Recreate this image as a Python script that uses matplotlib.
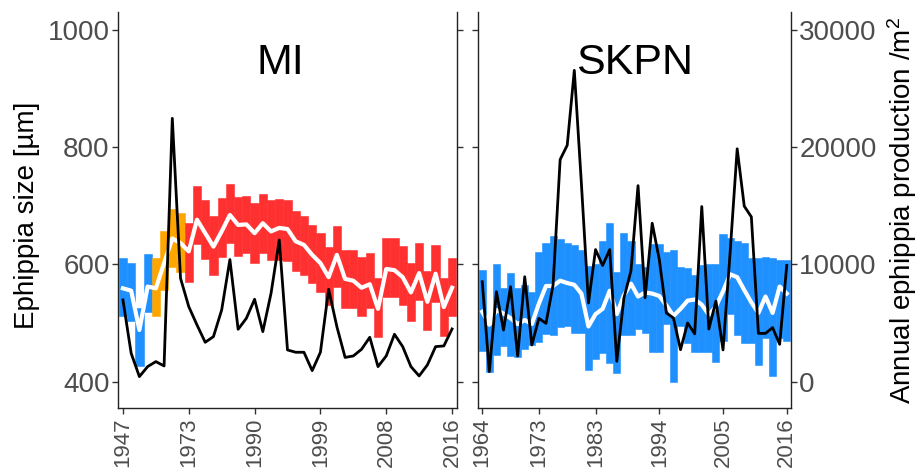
import matplotlib
matplotlib.use("Agg")
import matplotlib.pyplot as plt
import numpy as np

plt.rcParams['font.family'] = ['Liberation Sans', 'DejaVu Sans']
plt.rcParams['mathtext.fontset'] = 'custom'
plt.rcParams['mathtext.rm'] = 'Liberation Sans'
plt.rcParams['mathtext.it'] = 'Liberation Sans'

# ---------------- data ----------------
mi_tick_idx = [0, 8, 16, 24, 32, 40]
mi_tick_labels = ['1947', '1973', '1990', '1999', '2008', '2016']
skpn_tick_idx = [0, 8, 16, 25, 34, 43]
skpn_tick_labels = ['1964', '1973', '1983', '1994', '2005', '2016']

mi_mean = [559, 555, 488, 562, 559, 602, 644, 636, 622, 676, 653, 630, 656, 684,
           667, 668, 653, 670, 656, 662, 660, 639, 633, 616, 602, 578, 616, 575,
           572, 560, 566, 524, 592, 590, 578, 552, 585, 536, 584, 527, 560]
mi_upper = [610, 603, 525, 617, 610, 656, 695, 687, 671, 733, 710, 682, 713, 736,
            714, 716, 705, 719, 710, 711, 710, 690, 683, 667, 653, 629, 665, 624,
            624, 613, 619, 576, 644, 644, 631, 603, 636, 588, 633, 577, 610]
mi_lower = [511, 504, 426, 518, 511, 556, 596, 587, 570, 634, 609, 582, 613, 636,
            614, 619, 603, 619, 608, 608, 605, 588, 582, 568, 553, 531, 562, 525,
            525, 512, 525, 476, 544, 544, 531, 504, 539, 488, 536, 478, 511]
mi_prod = [6958, 2414, 426, 1278, 1704, 1335, 22436, 8804, 6390, 4828, 3351, 3834,
           6106, 10400, 4459, 5396, 7015, 4260, 7526, 12070, 2698, 2500, 2500, 937,
           2500, 7867, 4686, 2060, 2187, 2755, 3777, 1278, 2187, 4033, 2982, 1278,
           483, 1420, 2982, 3039, 4487]
mi_group = ['early'] * 4 + ['mid'] * 4 + ['late'] * 33

skpn_mean = [519, 497, 522, 516, 508, 498, 505, 498, 533, 563, 563, 572, 568, 565,
             550, 494, 515, 524, 555, 515, 547, 567, 545, 552, 550, 546, 530, 512,
             524, 538, 540, 531, 514, 528, 554, 583, 578, 556, 535, 517, 545, 517,
             562, 550]
skpn_upper = [591, 497, 600, 560, 585, 560, 565, 552, 621, 637, 648, 643, 636, 633,
              624, 597, 600, 640, 670, 587, 654, 640, 600, 596, 634, 635, 621, 624,
              595, 593, 582, 599, 601, 601, 652, 645, 640, 636, 611, 610, 612, 610,
              607, 607]
skpn_lower = [452, 416, 446, 460, 444, 442, 455, 463, 468, 481, 480, 493, 495, 483,
              483, 420, 439, 449, 432, 415, 479, 480, 490, 482, 451, 451, 499, 400,
              494, 466, 451, 451, 451, 434, 470, 515, 479, 466, 465, 429, 475, 409,
              474, 469]
skpn_prod = [8511, 851, 7660, 4397, 8085, 2184, 8936, 3121, 5390, 4965, 8227, 18923,
             20143, 26526, 16880, 6700, 11250, 9900, 11250, 1730, 7100, 9450, 16700,
             7150, 13500, 10400, 5850, 5420, 2720, 5000, 4070, 14920, 4480, 6870,
             2700, 10980, 19840, 14950, 14040, 4110, 4110, 4600, 3180, 9900]
skpn_group = ['early'] * 44

group_colors = {'early': '#1E90FF', 'mid': '#FFA500', 'late': '#FF3030'}

size_ticks = [400, 600, 800, 1000]
prod_ticks = [0, 10000, 20000, 30000]
size_lim = (355, 1030)

# ---------------- figure ----------------
W, H = 918, 471
fig = plt.figure(figsize=(W / 100, H / 100), dpi=100)


def rect(x0, x1, y0, y1):
    return [x0 / W, 1 - y1 / H, (x1 - x0) / W, (y1 - y0) / H]


TICK_COL = '#333333'
LAB_COL = '#4D4D4D'


def panel(ax, mean, lo, hi, prod, groups, tidx, tlab, title, title_x,
          left_labels, right_labels):
    n = len(mean)
    x = np.arange(n)
    cols = [group_colors[g] for g in groups]
    lo = np.array(lo, float)
    hi = np.array(hi, float)
    ax.bar(x, hi - lo, bottom=lo, width=1.0, color=cols, edgecolor=cols,
           linewidth=0.4, zorder=1)
    ax.plot(x, mean, color='white', lw=3.0, zorder=2, solid_joinstyle='round')
    ax.set_xlim(-0.6, n - 0.4)
    ax.set_ylim(*size_lim)
    ax.set_yticks(size_ticks)
    ax.set_xticks(tidx)
    ax.set_xticklabels(tlab, rotation=90, color=LAB_COL)
    ax.tick_params(axis='both', direction='out', length=4, width=1, color=TICK_COL,
                   labelsize=20, labelcolor=LAB_COL, pad=2)
    ax.tick_params(axis='x', labelsize=16, pad=3)
    if not left_labels:
        ax.set_yticklabels([])
    for s in ['top', 'right']:
        ax.spines[s].set_visible(False)
    for s in ['left', 'bottom']:
        ax.spines[s].set_color('#222222')
        ax.spines[s].set_linewidth(1.0)

    tw = ax.twinx()
    tw.plot(x, prod, color='black', lw=2.0, zorder=3, solid_joinstyle='round')
    tw.set_ylim((size_lim[0] - 400) * 50, (size_lim[1] - 400) * 50)
    tw.set_yticks(prod_ticks)
    tw.tick_params(axis='y', direction='out', length=4, width=1, color=TICK_COL,
                   labelsize=20, labelcolor=LAB_COL, pad=2)
    if not right_labels:
        tw.set_yticklabels([])
    for s in ['top', 'left', 'bottom']:
        tw.spines[s].set_visible(False)
    tw.spines['right'].set_color('#222222')
    tw.spines['right'].set_linewidth(1.0)
    ax.text(title_x, 0.872, title, transform=ax.transAxes, ha='center', va='center',
            fontsize=31, color='black', zorder=5)
    return tw


ax1 = fig.add_axes(rect(118, 457, 12, 408))
ax2 = fig.add_axes(rect(478, 791, 12, 408))

panel(ax1, mi_mean, mi_lower, mi_upper, mi_prod, mi_group, mi_tick_idx,
      mi_tick_labels, 'MI', 0.478, True, False)
panel(ax2, skpn_mean, skpn_lower, skpn_upper, skpn_prod, skpn_group, skpn_tick_idx,
      skpn_tick_labels, 'SKPN', 0.5, False, True)

fig.text(27 / W, 1 - 215 / H, 'Ephippia size [µm]', rotation=90, ha='center',
         va='center', fontsize=20, color='black')
fig.text(902 / W, 1 - 210 / H, 'Annual ephippia production /m$^2$', rotation=90,
         ha='center', va='center', fontsize=20, color='black')

fig.savefig('out.png', dpi=100)
